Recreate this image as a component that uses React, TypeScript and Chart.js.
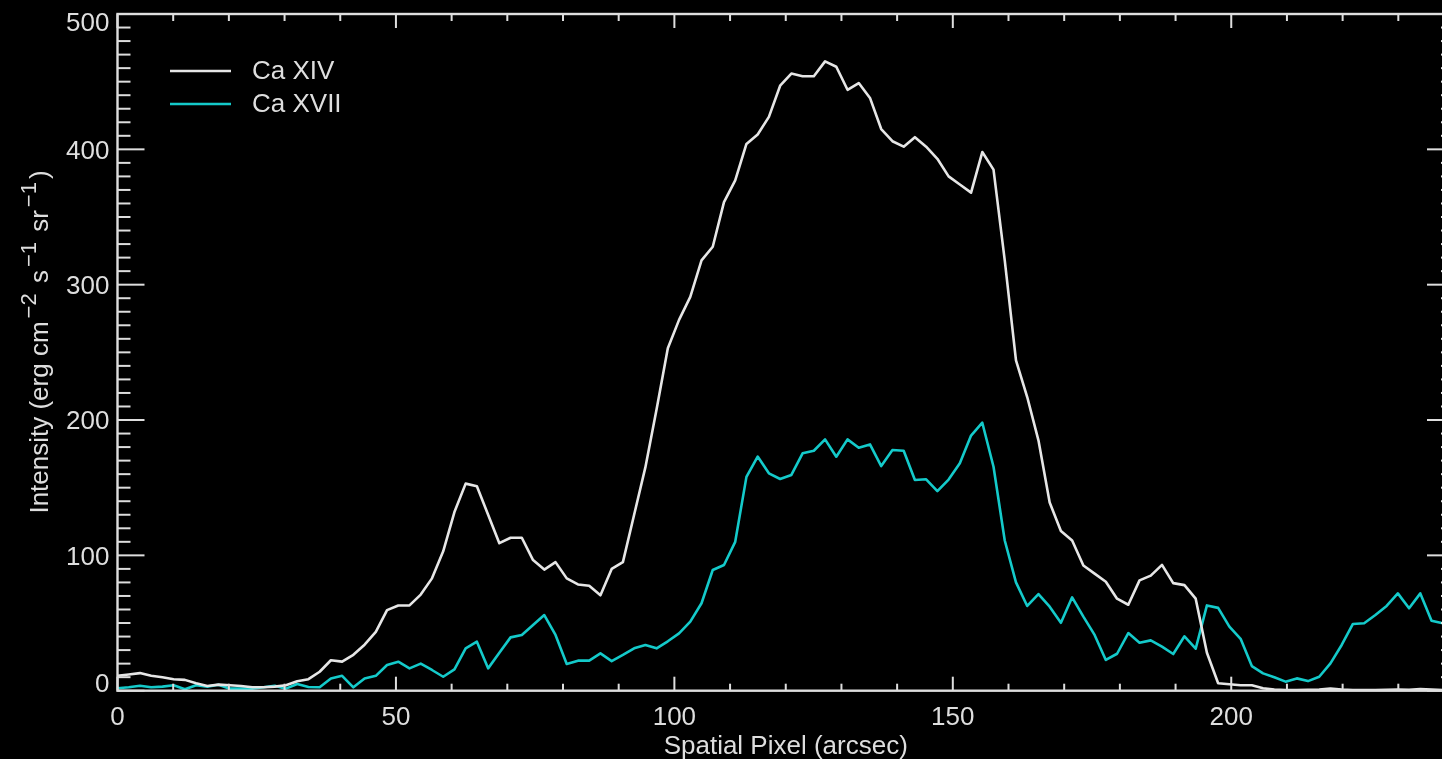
import React, { useEffect, useRef } from 'react';
import { Chart, registerables } from 'chart.js';

Chart.register(...registerables);

// ---- Data -------------------------------------------------------------
const seriesNames = ['Ca XIV', 'Ca XVII'];

// Ca XIV intensity per spatial pixel (erg cm^-2 s^-1 sr^-1)
const caXIV = [
  11, 12, 13, 11, 10, 8.5, 8, 5.5, 3.5, 4.5,
  4, 3.5, 2.5, 2.5, 3, 4, 7, 8.5, 14, 22.5,
  21.5, 26.5, 34, 43.5, 59.5, 63, 63, 71, 83, 103,
  132, 153, 151, 130, 109, 113, 113, 96.5, 89.5, 95,
  83, 78.5, 77.5, 70.5, 90, 95, 130, 165, 208, 253,
  274, 291, 318, 328, 361, 377, 404, 411, 424, 447,
  456, 454, 454, 465, 461, 444, 449, 438, 415, 406,
  402, 409, 402, 393, 380, 374, 368, 398, 385, 318,
  244, 217, 185, 139, 118, 111, 92.5, 86.5, 80.5, 68,
  63.5, 81.5, 85, 93, 79.5, 78, 68, 28, 5.5, 4.8,
  4, 4, 1.8, 0.8, 0.5, 0.5, 0.6, 0.8, 1.5, 0.8,
  0.5, 0.4, 0.5, 0.6, 0.8, 0.7, 1.2, 0.8, 0.5, 0.5,
];

// Ca XVII intensity per spatial pixel
const caXVII = [
  1.8, 2.5, 3.7, 2.5, 3, 4, 1, 4, 3, 4.4,
  1.5, 1.5, 1.5, 2.5, 3.7, 1.5, 4.9, 2.7, 2.5, 9,
  11, 2.5, 9, 11, 19, 21.4, 16.5, 20, 15.3, 10.3,
  15.8, 31.3, 36.2, 16.5, 28, 39.4, 41.2, 48.5, 55.9, 41.2,
  19.7, 22.2, 22.2, 27.6, 21.9, 26.4, 31.3, 33.8, 31.3, 36.5,
  42.4, 51, 64.6, 89.2, 92.9, 110, 158, 173, 160.6, 156.4,
  159.4, 175.4, 177.3, 185.7, 172.9, 185.7, 179.5, 182, 166, 177.8,
  177.3, 155.7, 156.2, 147.5, 156, 168, 188.5, 198, 165.5, 111,
  80, 62.6, 71.4, 62.1, 50.2, 69, 54.7, 41.2, 22.7, 27.3,
  42.6, 35.5, 37.2, 32.5, 27.1, 40.2, 31, 63, 61.2, 47.3,
  38.3, 18.2, 12.8, 9.9, 6.7, 9.1, 7.1, 10.3, 20.2, 33.8,
  49.3, 49.8, 55.9, 62.6, 71.9, 60.9, 71.9, 51.7, 49.8, 48,
];

// Spatial pixel positions in arcsec (120 samples spanning 0..240 arcsec)
const X_MAX = 240;
const spatialPixel = caXIV.map((_, i) => (i * X_MAX) / (caXIV.length - 1));

const xMajorTicks = [0, 50, 100, 150, 200];
const yMajorTicks = [0, 100, 200, 300, 400, 500];
const xMinorStep = 10;
const yMinorStep = 10;
const Y_MAX = 500;

const xTitle = 'Spatial Pixel (arcsec)';
const yTitleParts = [
  { t: 'Intensity (erg cm', sup: false },
  { t: '\u22122', sup: true },
  { t: ' s', sup: false },
  { t: '\u22121', sup: true },
  { t: ' sr', sup: false },
  { t: '\u22121', sup: true },
  { t: ')', sup: false },
];

// ---- Styles ----------------------------------------------------------
const FONT_FAMILY = '"Liberation Sans", Arial, Helvetica, sans-serif';
const FG = '#dedede';
const WHITE_LINE = '#e6e6e6';
const CYAN_LINE = '#14caca';
const FONT_SIZE = 26;
const SUP_SIZE = 22;
const SUP_GAP = 3;

const idlFrame = {
  id: 'idlFrame',
  beforeDraw(chart: any) {
    const { ctx } = chart;
    ctx.save();
    ctx.fillStyle = '#000';
    ctx.fillRect(0, 0, chart.width, chart.height);
    ctx.restore();
  },
  afterDatasetsDraw(chart: any) {
    const { ctx, chartArea: a } = chart;
    const xs = chart.scales.x;
    const ys = chart.scales.y;
    const seg = (x1: number, y1: number, x2: number, y2: number) => {
      ctx.beginPath();
      ctx.moveTo(x1, y1);
      ctx.lineTo(x2, y2);
      ctx.stroke();
    };
    ctx.save();
    ctx.strokeStyle = FG;
    ctx.lineWidth = 2.4;
    ctx.strokeRect(a.left, a.top, a.right - a.left, a.bottom - a.top);

    ctx.lineWidth = 2;
    // x ticks (bottom & top)
    for (let v = 0; v <= X_MAX + 1e-6; v += xMinorStep) {
      const px = xs.getPixelForValue(v);
      const major = xMajorTicks.includes(v);
      const len = major ? 14 : 7;
      seg(px, a.bottom, px, a.bottom - len);
      seg(px, a.top, px, a.top + len);
    }
    // y ticks (left & right)
    for (let v = 0; v <= Y_MAX + 1e-6; v += yMinorStep) {
      const py = ys.getPixelForValue(v);
      const major = yMajorTicks.includes(v);
      const len = major ? 27 : 13;
      seg(a.left, py, a.left + len, py);
      seg(a.right, py, a.right - len, py);
    }

    ctx.fillStyle = FG;
    ctx.font = `${FONT_SIZE}px ${FONT_FAMILY}`;
    const capH = FONT_SIZE * 0.716;
    // x tick labels
    ctx.textAlign = 'center';
    ctx.textBaseline = 'alphabetic';
    xMajorTicks.forEach((v) => {
      ctx.fillText(String(v), xs.getPixelForValue(v), a.bottom + 34);
    });
    // y tick labels
    ctx.textAlign = 'right';
    yMajorTicks.forEach((v) => {
      const py = ys.getPixelForValue(v);
      let base = py + capH / 2;
      base = Math.max(base, a.top - 2 + capH);
      base = Math.min(base, a.bottom + 1);
      ctx.fillText(String(v), a.left - 8, base);
    });
    // x title
    ctx.textAlign = 'center';
    ctx.fillText(xTitle, (a.left + a.right) / 2, 753.5);

    // y title (rotated, with superscripts)
    ctx.save();
    ctx.translate(48, 342);
    ctx.rotate(-Math.PI / 2);
    ctx.textAlign = 'left';
    const widthOf = (p: { t: string; sup: boolean }) => {
      ctx.font = `${p.sup ? SUP_SIZE : FONT_SIZE}px ${FONT_FAMILY}`;
      return ctx.measureText(p.t).width + (p.sup ? 2 * SUP_GAP : 0);
    };
    let total = 0;
    yTitleParts.forEach((p) => {
      total += widthOf(p);
    });
    let cx = -total / 2;
    yTitleParts.forEach((p) => {
      const w = widthOf(p);
      ctx.fillText(p.t, cx + (p.sup ? SUP_GAP : 0), p.sup ? -12 : 0);
      cx += w;
    });
    ctx.restore();

    // legend
    ctx.font = `${FONT_SIZE}px ${FONT_FAMILY}`;
    ctx.textAlign = 'left';
    ctx.textBaseline = 'middle';
    const colors = [WHITE_LINE, CYAN_LINE];
    seriesNames.forEach((name, k) => {
      const ly = a.top + 57 + k * 33;
      ctx.strokeStyle = colors[k];
      ctx.lineWidth = 2.5;
      seg(a.left + 52.5, ly, a.left + 113.5, ly);
      ctx.fillStyle = FG;
      ctx.fillText(name, a.left + 134.5, ly + 1);
    });
    ctx.restore();
  },
};

export default function App() {
  const ref = useRef<HTMLCanvasElement | null>(null);

  useEffect(() => {
    document.body.style.margin = '0';
    document.body.style.background = '#000';
    document.body.style.overflow = 'hidden';
    const canvas = ref.current;
    if (!canvas) return;
    const chart = new Chart(canvas, {
      type: 'line',
      data: {
        datasets: [
          {
            label: seriesNames[0],
            data: caXIV.map((v, i) => ({ x: spatialPixel[i], y: v })),
            borderColor: WHITE_LINE,
            borderWidth: 2.6,
            pointRadius: 0,
            tension: 0,
            borderJoinStyle: 'round',
          },
          {
            label: seriesNames[1],
            data: caXVII.map((v, i) => ({ x: spatialPixel[i], y: v })),
            borderColor: CYAN_LINE,
            borderWidth: 2.6,
            pointRadius: 0,
            tension: 0,
            borderJoinStyle: 'round',
          },
        ],
      },
      options: {
        animation: false,
        responsive: false,
        devicePixelRatio: 1,
        layout: { padding: { left: 117.5, right: 16, top: 14, bottom: 68.3 } },
        scales: {
          x: { type: 'linear', min: 0, max: X_MAX, display: false },
          y: { type: 'linear', min: 0, max: Y_MAX, display: false },
        },
        plugins: {
          legend: { display: false },
          tooltip: { enabled: false },
        },
        events: [],
      },
      plugins: [idlFrame],
    });
    return () => chart.destroy();
  }, []);

  return (
    <div style={{ width: 1442, height: 759, overflow: 'hidden', background: '#000', position: 'relative' }}>
      <canvas ref={ref} width={1470} height={759} style={{ display: 'block' }} />
    </div>
  );
}
